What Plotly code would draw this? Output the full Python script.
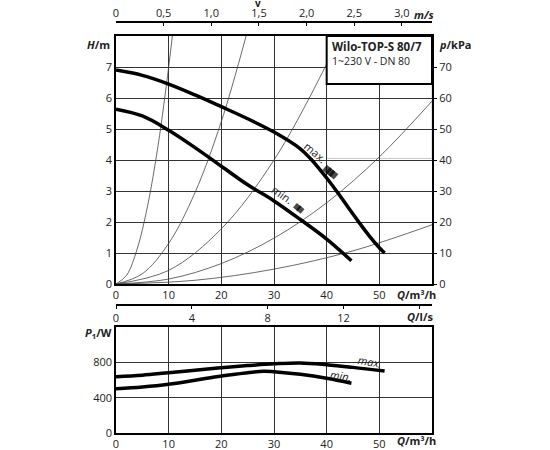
import math
import plotly.graph_objects as go

# pump curves, Q in m3/h
q_max = [0, 5, 10, 15, 20, 25, 30, 35, 37, 39, 40, 42, 44, 46, 48, 50, 51]
h_max = [6.9, 6.73, 6.45, 6.1, 5.72, 5.33, 4.9, 4.36, 4.03, 3.63, 3.42, 2.97, 2.49, 2.02, 1.57, 1.17, 1.0]
q_min = [0, 5, 10, 15, 20, 25, 30, 35, 40, 44.7]
h_min = [5.64, 5.42, 4.96, 4.4, 3.8, 3.2, 2.68, 2.08, 1.45, 0.75]

# system curves (thin lines)
sys_q = [
    [0, 2, 4, 6, 8, 10, 10.7],
    [0, 5, 10, 15, 20, 24.7],
    [0, 10, 20, 30, 40, 42.4],
    [0, 10, 20, 30, 40, 50, 60],
    [0, 15, 30, 45, 60],
]
sys_h = [
    [0, 0.28, 1.12, 2.52, 4.48, 7.0, 8.0],
    [0, 0.33, 1.31, 2.95, 5.24, 8.0],
    [0, 0.44, 1.78, 4.0, 7.1, 8.0],
    [0, 0.16, 0.66, 1.48, 2.62, 4.1, 5.9],
    [0, 0.12, 0.48, 1.07, 1.91],
]

# power consumption P1 in W
pq_max = [0, 5, 10, 15, 20, 25, 30, 35, 40, 45, 51]
p_max = [638, 655, 683, 711, 739, 763, 783, 793, 773, 743, 702]
pq_min = [0, 5, 10, 15, 20, 25, 28, 30, 35, 40, 44.7]
p_min = [500, 520, 551, 597, 645, 682, 700, 694, 664, 619, 563]

h_ticks = [0, 1, 2, 3, 4, 5, 6, 7]
kpa_ticks = [0, 10, 20, 30, 40, 50, 60, 70]
q_ticks = [0, 10, 20, 30, 40, 50]
v_ticks = [0, 0.5, 1.0, 1.5, 2.0, 2.5, 3.0]
v_labels = ["0", "0,5", "1,0", "1,5", "2,0", "2,5", "3,0"]
ls_ticks = [0, 4, 8, 12, 16]
ls_labels = ["0", "4", "8", "12", " "]
p_ticks = [0, 400, 800]

Q_MAX = 60
V_MAX = Q_MAX / 3600 / (math.pi * 0.04 ** 2)  # DN 80
LS_MAX = Q_MAX / 3.6

FONT = "Open Sans"
TXT = "#222"

fig = go.Figure()

for sq, sh in zip(sys_q, sys_h):
    fig.add_trace(go.Scatter(x=sq, y=sh, mode="lines", line=dict(color="#444", width=0.8, shape="spline"),
                             hoverinfo="skip", xaxis="x", yaxis="y"))

fig.add_trace(go.Scatter(x=q_max, y=h_max, mode="lines", line=dict(color="black", width=3.5, shape="spline"),
                         xaxis="x", yaxis="y"))
fig.add_trace(go.Scatter(x=q_min, y=h_min, mode="lines", line=dict(color="black", width=3.5, shape="spline"),
                         xaxis="x", yaxis="y"))

# little black flags next to max. / min. (a few squares laid along the curve)
fig.add_trace(go.Scatter(x=[40.12, 40.7, 41.28, 34.41, 34.99], y=[3.69, 3.61, 3.53, 2.48, 2.40],
                         mode="markers",
                         marker=dict(symbol="square", size=[7, 7, 7, 6, 6], angle=40, color="black",
                                     line=dict(width=0)),
                         hoverinfo="skip", xaxis="x", yaxis="y"))

fig.add_trace(go.Scatter(x=pq_max, y=p_max, mode="lines", line=dict(color="black", width=3.5, shape="spline"),
                         xaxis="x4", yaxis="y3"))
fig.add_trace(go.Scatter(x=pq_min, y=p_min, mode="lines", line=dict(color="black", width=3.5, shape="spline"),
                         xaxis="x4", yaxis="y3"))

# dummy traces so the extra axes are drawn
fig.add_trace(go.Scatter(x=[0], y=[0], mode="markers", marker=dict(opacity=0), xaxis="x2", yaxis="y"))
fig.add_trace(go.Scatter(x=[0], y=[0], mode="markers", marker=dict(opacity=0), xaxis="x3", yaxis="y"))
fig.add_trace(go.Scatter(x=[0], y=[0], mode="markers", marker=dict(opacity=0), xaxis="x", yaxis="y2"))

tick_font = dict(family=FONT, size=11, color=TXT)
frame = dict(showline=True, linecolor="black", linewidth=1.6, mirror=True, automargin=False)
grid = dict(showgrid=True, gridcolor="#333", gridwidth=1)

top_dom = [(433 - 284) / 411, (433 - 36) / 411]
bot_dom = [0, (433 - 327) / 411]

fig.update_layout(
    width=550, height=450,
    margin=dict(l=116, r=118, t=22, b=17, autoexpand=False),
    paper_bgcolor="white", plot_bgcolor="white",
    showlegend=False,
    font=dict(family=FONT, color=TXT),
    xaxis=dict(domain=[0, 1], range=[0, Q_MAX], anchor="y", tickvals=q_ticks, ticks="",
               tickfont=tick_font, zeroline=False, **frame, **grid),
    yaxis=dict(domain=top_dom, range=[0, 8], anchor="x", tickvals=h_ticks, ticks="",
               tickfont=tick_font, zeroline=False, **frame, **grid),
    yaxis2=dict(overlaying="y", side="right", range=[0, 80], anchor="x", tickvals=kpa_ticks,
                ticks="outside", ticklen=4, tickcolor="black", showgrid=False, zeroline=False,
                tickfont=tick_font, automargin=False),
    xaxis2=dict(overlaying="x", side="top", anchor="free", position=1.0, range=[0, V_MAX],
                tickvals=v_ticks, ticktext=v_labels, ticks="inside", ticklen=3, tickcolor="black",
                showline=True, linecolor="black", linewidth=1.6, showgrid=False, zeroline=False,
                tickfont=tick_font, automargin=False),
    xaxis3=dict(overlaying="x", side="bottom", anchor="free", position=(433 - 305) / 411,
                range=[0, LS_MAX], tickvals=ls_ticks, ticktext=ls_labels, ticks="outside", ticklen=3,
                tickcolor="black", showline=True, linecolor="black", linewidth=1.6, showgrid=False,
                zeroline=False, tickfont=tick_font, automargin=False),
    xaxis4=dict(domain=[0, 1], range=[0, Q_MAX], anchor="y3", tickvals=q_ticks, ticks="",
                tickfont=tick_font, zeroline=False, **frame, **grid),
    yaxis3=dict(domain=bot_dom, range=[0, 1200], anchor="x4", tickvals=p_ticks, ticks="",
                tickfont=tick_font, zeroline=False, **frame, **grid),
)

# type label box, covers grid and curves
fig.add_shape(type="rect", xref="x", yref="y", x0=40, x1=60, y0=4.05, y1=6.45,
              line=dict(color="#bbb", width=0.8), layer="below")
fig.add_shape(type="rect", xref="x", yref="y", x0=40, x1=60, y0=6.45, y1=8,
              line=dict(color="black", width=2), fillcolor="white", layer="above")


def label(text, x, y, size=11, xanchor="center", yanchor="middle", **kw):
    fig.add_annotation(text=text, x=x, y=y, xref=kw.pop("xref", "paper"), yref=kw.pop("yref", "paper"),
                       showarrow=False, xanchor=xanchor, yanchor=yanchor,
                       font=dict(family=FONT, size=size, color=TXT), **kw)


# page pixel -> paper coordinates of the plot area (116..432 x 22..433)
def px_x(p):
    return (p - 116) / 316


def px_y(p):
    return (433 - p) / 411


label("<b>Wilo-TOP-S 80/7</b>", px_x(330), px_y(46), size=11.5, xanchor="left")
label("1~230 V - DN 80", px_x(330), px_y(61), size=10.5, xanchor="left")

label("<b>v</b>", px_x(258), px_y(11), size=10, yanchor="bottom", borderpad=0)
label("<b><i>m/s</i></b>", px_x(424), px_y(15), size=11)
label("<b><i>H</i>/m</b>", px_x(98), px_y(44), size=11)
label("<b><i>p</i>/kPa</b>", px_x(455), px_y(44), size=11)
label("<b><i>Q</i>/m³/h</b>", px_x(416), px_y(294), size=11)
label("<b><i>Q</i>/l/s</b>", px_x(420), px_y(316), size=11)
label("<b><i>P</i><sub>1</sub>/W</b>", px_x(98), px_y(333), size=11)
label("<b><i>Q</i>/m³/h</b>", px_x(416), px_y(440), size=11)

label("max.", 37.9, 4.25, size=11, xref="x", yref="y", textangle=40)
label("min.", 31.6, 2.88, size=11, xref="x", yref="y", textangle=35)
label("<i>max.</i>", 48.2, 815, size=11, xref="x4", yref="y3", textangle=10)
label("<i>min.</i>", 42.7, 648, size=11, xref="x4", yref="y3", textangle=8)

# drop the default 8px body margin so the figure sits at the page corner
fig.write_html("out.html", config={"displayModeBar": False},
               post_script="document.body.style.margin = '0';")
